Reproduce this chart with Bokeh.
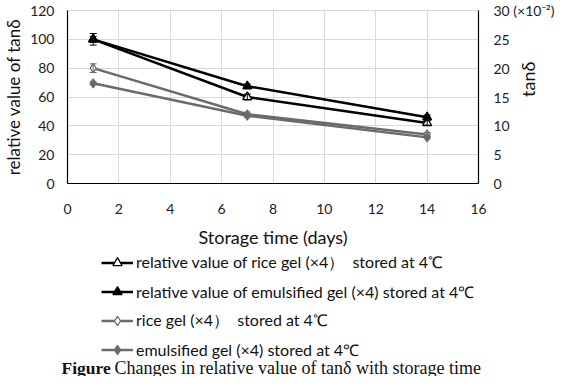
from bokeh.plotting import figure
from bokeh.layouts import column
from bokeh.models import (Range1d, LinearAxis, Legend, LegendItem, Label, Whisker,
                          TeeHead, ColumnDataSource, FixedTicker)
from bokeh.embed import file_html
from bokeh.resources import INLINE
import math

days = [1, 7, 14]
rel_rice = [100, 60, 42]
rel_rice_err = [4, 2, 1.5]
rel_emul = [100, 67.5, 46]
rel_emul_err = [2, 1.5, 1.5]
rice_gel = [80, 48, 34]
rice_gel_err = [3, 1.5, 1.5]
emul_gel = [69.5, 47, 32]
emul_gel_err = [1, 1, 1]
x_ticks = [0, 2, 4, 6, 8, 10, 12, 14, 16]
y_ticks = [0, 20, 40, 60, 80, 100, 120]
y2_ticks = [0, 5, 10, 15, 20, 25, 30]
y2_top_label = "30  (\u00d710\u207b\u00b2)"
labels = ["relative value of rice gel (\u00d74\uff09  stored at 4\u2103",
          "relative value of emulsified gel (\u00d74) stored at 4\u2103",
          "rice gel (\u00d74\uff09  stored at 4\u2103",
          "emulsified gel (\u00d74) stored at 4\u2103"]

FONT = "Lato"
BLACK = "#000000"
GRAY = "#6b6b6b"

p = figure(width=556, height=250, output_backend="svg", toolbar_location=None,
           x_range=Range1d(0, 16), y_range=Range1d(0, 120),
           min_border_left=67, min_border_right=78, min_border_top=10,
           min_border_bottom=66)
p.frame_align = False
p.extra_y_ranges = {"r": Range1d(0, 30)}
p.outline_line_color = "#d9d9d9"


def style_axis(ax):
    ax.axis_line_color = "#000000"
    ax.axis_line_width = 1.2
    ax.major_tick_line_color = None
    ax.minor_tick_line_color = None
    ax.major_tick_out = 0
    ax.major_tick_in = 0
    ax.major_label_text_font = FONT
    ax.major_label_text_font_size = "14px"
    ax.major_label_text_color = "#222222"
    ax.axis_label_text_font = FONT
    ax.axis_label_text_font_style = "normal"
    ax.axis_label_text_color = "#111111"


p.xaxis.ticker = FixedTicker(ticks=x_ticks)
p.yaxis.ticker = FixedTicker(ticks=y_ticks)
style_axis(p.xaxis[0])
style_axis(p.yaxis[0])
p.xaxis.major_label_standoff = 20
p.xaxis.axis_label = "Storage time (days)"
p.xaxis.axis_label_text_font_size = "18px"
p.xaxis.axis_label_standoff = 9
p.yaxis.major_label_standoff = 13
p.yaxis.axis_label = "relative value of tan\u03b4"
p.yaxis.axis_label_text_font_size = "17px"
p.yaxis.axis_label_standoff = 3

ax2 = LinearAxis(y_range_name="r", ticker=FixedTicker(ticks=y2_ticks))
style_axis(ax2)
ax2.major_label_standoff = 15
ax2.major_label_overrides = {30: y2_top_label}
ax2.axis_label = "tan\u03b4"
ax2.axis_label_text_font_size = "18px"
ax2.axis_label_standoff = -33
ax2.axis_label_orientation = math.pi / 2
p.add_layout(ax2, "right")

p.xgrid.ticker = FixedTicker(ticks=x_ticks)
p.ygrid.ticker = FixedTicker(ticks=y_ticks)
p.xgrid.grid_line_color = "#d9d9d9"
p.ygrid.grid_line_color = "#d9d9d9"

# bottom strip with legend and caption
bf = figure(width=556, height=126, output_backend="svg", toolbar_location=None,
            x_axis_type=None, y_axis_type=None, min_border=0,
            x_range=Range1d(-30, -20), y_range=Range1d(-30, -20))
bf.frame_align = False
bf.outline_line_color = None
bf.grid.visible = False

series = [
    (rel_rice, rel_rice_err, BLACK, "triangle", "white"),
    (rel_emul, rel_emul_err, BLACK, "triangle", BLACK),
    (rice_gel, rice_gel_err, GRAY, "diamond", "white"),
    (emul_gel, emul_gel_err, GRAY, "diamond", GRAY),
]
items = []
for (vals, errs, col, mk, fill), lab in zip(series, labels):
    src = ColumnDataSource(dict(x=days, y=vals,
                                up=[v + e for v, e in zip(vals, errs)],
                                lo=[v - e for v, e in zip(vals, errs)]))
    w = Whisker(source=src, base="x", upper="up", lower="lo", line_color=col,
                line_width=1, level="glyph",
                upper_head=TeeHead(size=7, line_color=col, line_width=1),
                lower_head=TeeHead(size=7, line_color=col, line_width=1))
    p.add_layout(w)
    p.line("x", "y", source=src, line_color=col, line_width=2.5)
    p.scatter("x", "y", source=src, marker=mk, size=9,
              fill_color=fill, line_color=col, line_width=1.3)
    lr = bf.line("x", "y", source=src, line_color=col, line_width=2.5)
    sr = bf.scatter("x", "y", source=src, marker=mk, size=9,
                    fill_color=fill, line_color=col, line_width=1.3)
    items.append(LegendItem(label=lab, renderers=[lr, sr]))

legend = Legend(items=items, location=(101, 15), orientation="vertical",
                border_line_color=None, background_fill_alpha=0,
                padding=0, margin=0, spacing=6, glyph_width=32, glyph_height=23,
                label_height=23, label_standoff=3,
                label_text_font=FONT, label_text_font_size="16px",
                label_text_color="#111111")
bf.add_layout(legend, "center")

bf.add_layout(Label(x=61, y=9, x_units="screen", y_units="screen", text="Figure",
                    text_align="left", text_baseline="middle", text_font_style="bold",
                    text_font="Liberation Serif", text_font_size="17.5px", text_color="#111111"))
bf.add_layout(Label(x=114, y=9, x_units="screen", y_units="screen",
                    text="Changes in relative value of tan\u03b4 with storage time",
                    text_align="left", text_baseline="middle",
                    text_font="Liberation Serif", text_font_size="18px", text_color="#111111"))

layout = column(p, bf, spacing=0)
open("out.html", "w").write(file_html(layout, INLINE))
